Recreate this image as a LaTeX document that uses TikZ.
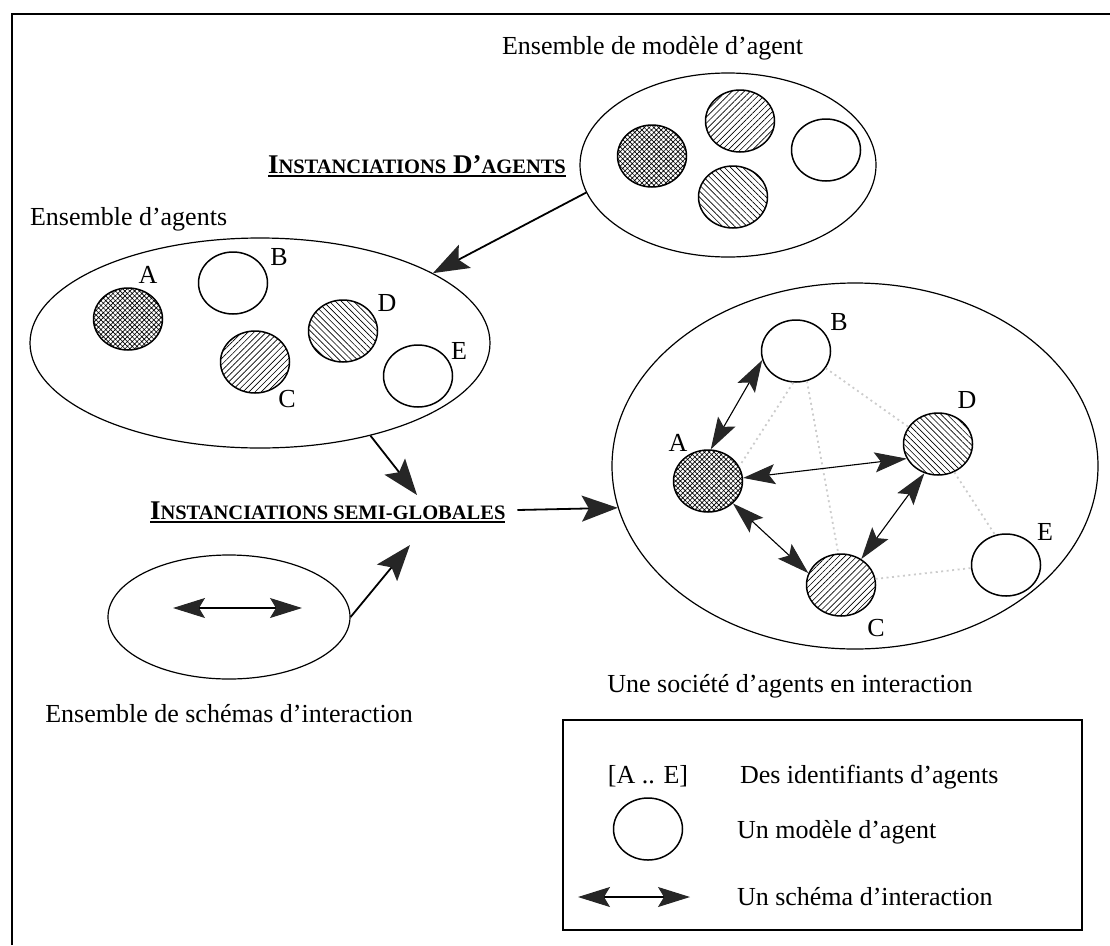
\documentclass[tikz,border=0pt]{standalone}
\usepackage{fontspec}
\setmainfont{Liberation Serif}
\usetikzlibrary{arrows.meta,patterns.meta,shapes.geometric,calc}
\newcommand\hdsm[1]{{\fontsize{20.5}{25}\selectfont #1}}
\begin{document}
\begin{tikzpicture}[x=1pt,y=-1pt,
  txt/.style={font=\fontsize{26}{31}\selectfont, inner sep=0pt, outer sep=0pt},
  heading/.style={txt, font=\fontsize{27}{32}\selectfont\bfseries, anchor=base west},
  setshape/.style={draw, ellipse, line width=1.2pt, inner sep=0pt},
  agent/.style={draw, ellipse, line width=1.5pt, minimum width=69pt, minimum height=62pt, inner sep=0pt},
  meshed/.style={agent, pattern={Hatch[angle=45,distance=3.4pt,line width=0.65pt]}},
  rising/.style={agent, pattern={Lines[angle=45,distance=4.3pt,line width=0.65pt]}},
  falling/.style={agent, pattern={Lines[angle=-45,distance=4.3pt,line width=0.65pt]}},
  flow/.style={line width=1.8pt, -{Stealth[length=36pt,width=26pt,inset=7pt,color=black!85]}},
  link/.style={line width=1.1pt, {Stealth[length=32pt,width=20pt,inset=6pt,color=black!85]}-{Stealth[length=32pt,width=20pt,inset=6pt,color=black!85]}},
  faint/.style={draw=black!20, line width=1.8pt, dash pattern=on 2pt off 3.5pt},
]
\useasboundingbox (0,0) rectangle (1110,945);

% outer frame
\draw[line width=2pt] (12,945) -- (12,14) -- (1110,14);

% set of agent models
\node[txt, anchor=base west] (modtitle) at (502,54) {Ensemble de modèle d’agent};
\node[setshape, minimum width=296pt, minimum height=184pt] (models) at (728,165) {};
\node[meshed]  (m1) at (652,156) {};
\node[rising]  (m2) at (740,121) {};
\node[falling] (m3) at (733,197) {};
\node[agent]   (m4) at (826,150) {};

\node[heading] (hdA) at (268,173) {I\hdsm{NSTANCIATIONS} D’\hdsm{AGENTS}};
\draw[line width=1.4pt] ($(hdA.base west)+(0,3)$) -- ($(hdA.base east)+(0,3)$);

% set of agents
\node[txt, anchor=base west] (agtitle) at (30,225) {Ensemble d’agents};
\node[setshape, minimum width=460pt, minimum height=210pt] (agents) at (260,343) {};
\node[meshed]  (lA) at (128,319) {};
\node[agent]   (lB) at (233,283) {};
\node[rising]  (lC) at (255,362) {};
\node[falling] (lD) at (343,331) {};
\node[agent]   (lE) at (418,376) {};
\node[txt] at (148,275) {A};
\node[txt] at (279,257) {B};
\node[txt] at (287,399) {C};
\node[txt] at (387,303) {D};
\node[txt] at (459,351) {E};

\draw[flow] (models.191) -- (agents.22);

% semi-global instanciation
\node[heading] (semiglob) at (150,519) {I\hdsm{NSTANCIATIONS SEMI-GLOBALES}};
\draw[line width=1.4pt] ($(semiglob.base west)+(0,3)$) -- ($(semiglob.base east)+(0,3)$);
\coordinate (semitop) at (417,495);
\coordinate (semibot) at (410,545);
\draw[flow] (agents.-40) -- (semitop);

% set of interaction schemes
\node[setshape, minimum width=242pt, minimum height=124pt] (schemas) at (229,617) {};
\coordinate (sL) at (173,608);
\coordinate (sR) at (302,608);
\draw[link] (sL) -- (sR);
\node[txt, anchor=base] (sctitle) at (229,722) {Ensemble de schémas d’interaction};
\draw[flow] (schemas.0) -- (semibot);

% society of interacting agents
\node[setshape, minimum width=486pt, minimum height=366pt] (society) at (855,466) {};
\draw[flow, shorten <=12pt] (semiglob.east) -- (society.190);
\node[meshed]  (rA) at (708,481) {};
\node[agent]   (rB) at (796,351) {};
\node[falling] (rD) at (938,444) {};
\node[rising]  (rC) at (841,585) {};
\node[agent]   (rE) at (1006,565) {};
\node[txt] at (678,443) {A};
\node[txt] at (839,322) {B};
\node[txt] at (876,628) {C};
\node[txt] at (967,400) {D};
\node[txt] at (1045,532) {E};

\draw[faint] (rB.265) -- (rA.25);
\draw[faint] (rB.290) -- (rC.95);
\draw[faint] (rB.-30) -- (rD.150);
\draw[faint] (rD.-60) -- (rE.110);
\draw[faint] (rC.10) -- (rE.185);

\draw[link] (rA.85) -- (rB.195);
\draw[link] (rA.5) -- (rD.205);
\draw[link] (rA.-42) -- (rC.160);
\draw[link] (rC.52) -- (rD.245);

\node[txt, anchor=base] (sotitle) at (790,692) {Une société d’agents en interaction};

% legend
\node[draw, line width=1.2pt, minimum width=519pt, minimum height=210pt, inner sep=0pt] (legend) at (822.5,825) {};
\node[txt, anchor=base] (lgids) at (648,783) {[A .. E]};
\node[txt, anchor=base west] (lgidstxt) at (740,783) {Des identifiants d’agents};
\node[agent] (lgagent) at (648,829) {};
\node[txt, anchor=base west] (lgagtxt) at (737,838) {Un modèle d’agent};
\coordinate (lgL) at (578,897);
\coordinate (lgR) at (690,897);
\draw[link] (lgL) -- (lgR);
\node[txt, anchor=base west] (lgsctxt) at (737,905) {Un schéma d’interaction};
\end{tikzpicture}
\end{document}
